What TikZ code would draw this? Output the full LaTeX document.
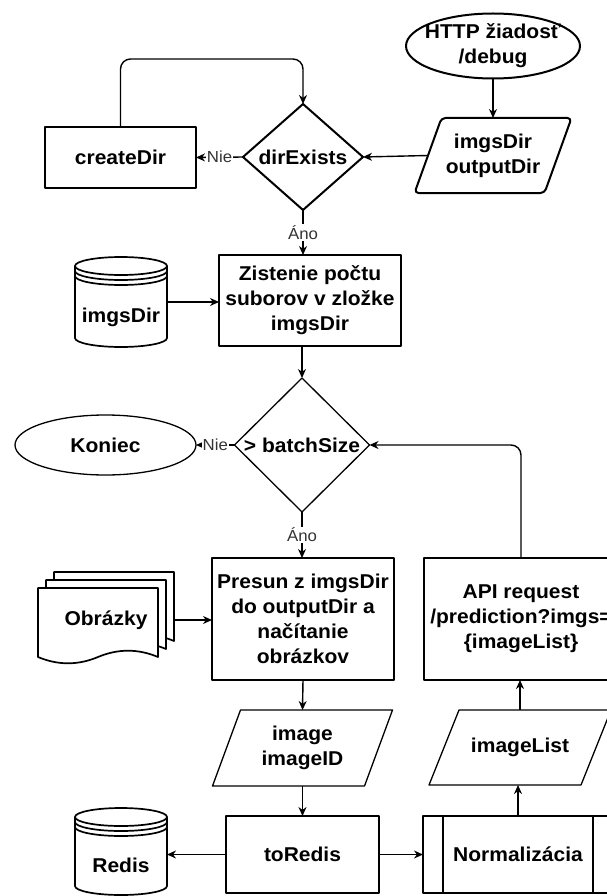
\documentclass[tikz,border=0pt]{standalone}
\usepackage{fontspec}
\setmainfont{Liberation Sans}[FakeStretch=1.05]
\usetikzlibrary{arrows.meta,shapes.geometric,calc}
\newcommand\paraoutline[3][]{\draw[shp,#1] ([xshift=#3]#2.north west) -- ([xshift=#3]#2.north east) -- ([xshift=-#3]#2.south east) -- ([xshift=-#3]#2.south west) -- cycle;}
\newcommand\dboutline[1]{%
  \draw[shp] ([yshift=-9pt]#1.north west) arc[start angle=180,end angle=0,x radius=46pt,y radius=9pt] -- ([yshift=9pt]#1.south east) arc[start angle=0,end angle=-180,x radius=46pt,y radius=9pt] -- cycle;
  \draw[shp] ([yshift=-9pt]#1.north west) arc[start angle=180,end angle=360,x radius=46pt,y radius=9pt];
  \draw[shp] ([yshift=-14pt]#1.north west) arc[start angle=180,end angle=360,x radius=46pt,y radius=9pt];
  \draw[shp] ([yshift=-19pt]#1.north west) arc[start angle=180,end angle=360,x radius=46pt,y radius=9pt];}
\begin{document}
\begin{tikzpicture}[x=1pt,y=1pt,
  every node/.style={outer sep=0pt},
  txt/.style={font=\fontsize{20}{25}\selectfont\bfseries, align=center, inner sep=0pt},
  shp/.style={line width=1.7pt, line join=round},
  box/.style={txt, draw, shp, rectangle},
  ell/.style={txt, draw, shp, ellipse},
  dia/.style={txt, draw, shp, diamond},
  arr/.style={line width=1.4pt, -{Stealth[length=9pt,width=8pt]}},
  lbl/.style={font=\fontsize{16}{18}\selectfont, fill=white, inner sep=1pt, text=black!80}]
\useasboundingbox (0,0) rectangle (607,-896);
\fill[white] (0,0) rectangle (607,-896);
\clip (0,0) rectangle (607,-896);

% nodes
\node[ell, line width=2pt, minimum width=174pt, minimum height=65pt] (http) at (493,-46) {\makebox[0pt]{HTTP žiadosť}\\\makebox[0pt]{/debug}};
\node[txt, minimum width=130pt, minimum height=75pt] (io1) at (493,-155.5) {imgsDir\\outputDir};
\paraoutline[line width=2pt, rounded corners=4pt]{io1}{13.5pt}
\node[dia, line width=2pt, minimum width=120pt, minimum height=106pt] (dir) at (303,-157) {\makebox[0pt]{dirExists}};
\node[box, minimum width=151pt, minimum height=61pt] (cd) at (120.5,-157.5) {createDir};
\node[box, minimum width=182pt, minimum height=91pt] (zist) at (310,-300.5) {Zistenie počtu\\suborov v zložke\\imgsDir};
\node[txt, minimum width=92pt, minimum height=90pt] (db1) at (121,-302) {\raisebox{-20pt}[0pt][0pt]{imgsDir}};
\dboutline{db1}
\node[dia, line width=1.3pt, minimum width=135pt, minimum height=134pt] (batch) at (302,-445) {\makebox[0pt]{> batchSize}};
\node[ell, line width=1.3pt, minimum width=181pt, minimum height=60pt] (kon) at (105.5,-445) {Koniec};
\node[box, minimum width=182pt, minimum height=122pt] (presun) at (303,-619) {Presun z imgsDir\\do outputDir a\\načítanie\\obrázkov};
\node[box, minimum width=194pt, minimum height=122pt] (api) at (521,-619) {API request\\/prediction?imgs=\\\{imageList\}};
% multi-document
\foreach \s in {16,8} {
  \draw[shp, fill=white, shift={(\s,\s)}] (38,-588) -- (158,-588) -- (158,-657) .. controls (138,-648.6) and (118,-648.6) .. (98,-657) .. controls (78,-665.4) and (58,-665.4) .. (38,-657) -- cycle;
}
\draw[shp, fill=white] (38,-588) -- (158,-588) -- (158,-657) .. controls (138,-648.6) and (118,-648.6) .. (98,-657) .. controls (78,-665.4) and (58,-665.4) .. (38,-657) -- cycle;
\node[txt, minimum width=136pt, minimum height=70pt] (obr) at (106,-620) {Obrázky};
\node[txt, minimum width=152pt, minimum height=76pt] (img) at (302.5,-748) {image\\imageID};
\paraoutline[line width=1.3pt]{img}{14pt}
\node[txt, minimum width=152pt, minimum height=75pt] (il) at (520,-747.5) {imageList};
\paraoutline[line width=1.3pt]{il}{15pt}
\node[box, minimum width=153pt, minimum height=77pt] (tor) at (302.5,-854.5) {toRedis};
\node[box, minimum width=190pt, minimum height=77pt] (norm) at (518,-854.5) {Normalizácia};
\draw[shp] ([xshift=20pt]norm.north west) -- ([xshift=20pt]norm.south west);
\draw[shp] ([xshift=-20pt]norm.north east) -- ([xshift=-20pt]norm.south east);
\node[txt, minimum width=92pt, minimum height=87pt] (redis) at (121,-851.5) {\raisebox{-21pt}[0pt][0pt]{Redis}};
\dboutline{redis}

% connectors
\coordinate (lt) at (303,-59);
\draw[arr] (http.south) -- (io1.north);
\draw[arr] (io1.west) -- (dir.east);
\draw[arr] (dir.west) -- (cd.east) node[lbl, midway] {Nie};
\draw[arr, rounded corners=10pt] (cd.north) |- (lt) -- (dir.north);
\draw[arr] (dir.south) -- (dir.south |- zist.north) node[lbl, midway] {Áno};
\draw[arr] (db1.east) -- (zist.west |- db1.east);
\draw[arr] (batch.north |- zist.south) -- (batch.north);
\draw[arr] (batch.west) -- (kon.east) node[lbl, midway] {Nie};
\draw[arr] (batch.south) -- (batch.south |- presun.north) node[lbl, midway] {Áno};
\draw[arr, rounded corners=10pt] (api.north) |- (batch.east);
\draw[arr] (obr.east) -- (presun.west |- obr.east);
\draw[arr] (presun.south) -- (img.north);
\draw[arr] (img.south) -- (tor.north);
\draw[arr] (tor.west) -- (redis.east |- tor.west);
\draw[arr] (tor.east) -- (norm.west);
\draw[arr] (norm.north) -- (norm.north |- il.south);
\draw[arr] (il.north) -- (il.north |- api.south);
\end{tikzpicture}
\end{document}
